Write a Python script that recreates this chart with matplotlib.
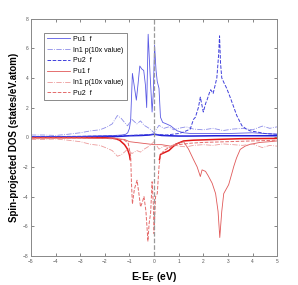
import matplotlib
matplotlib.use("Agg")
import matplotlib.pyplot as plt

plt.rcParams['font.family'] = ['Liberation Sans', 'DejaVu Sans']

nan = float('nan')

# spin up (blue)
pu1_up_x = [-5, -4, -3, -2.5, -2, -1.6, -1.3, -1.15, -1.07, -1.0, -0.95, -0.88, -0.8, -0.72, -0.65,
            -0.58, -0.5, -0.42, -0.35, -0.3, -0.24, -0.17, -0.08, -0.03, 0.02, 0.08, 0.13, 0.2, 0.26,
            0.35, 0.5, 0.67, 0.8, 0.94, 1.2, 1.5, 2, 3, 4, 5]
pu1_up_y = [0.05, 0.05, 0.06, 0.08, 0.1, 0.12, 0.15, 0.2, 0.3, 0.6, 1.2, 4.3, 3.4, 2.5, 3.6,
            4.8, 4.6, 4.5, 3.5, 2.0, 6.94, 4.5, 1.7, 3.0, 6.2, 4.5, 3.75, 3.3, 1.35,
            1.0, 0.9, 0.77, 0.6, 0.43, 0.3, 0.25, 0.25, 0.25, 0.3, 0.2]

pu2_up_x = [-5, -4, -3, -2, -1.5, -1, -0.5, 0, 0.5, 1.0, 1.2, 1.47, 1.6, 1.68, 1.8, 1.88, 2.0, 2.1,
            2.15, 2.25, 2.3, 2.4, 2.48, 2.55, 2.62, 2.66, 2.7, 2.75, 2.86, 2.95, 3.09, 3.2, 3.36,
            3.5, 3.57, 3.75, 3.9, 4.2, 4.5, 5]
pu2_up_y = [0.05, 0.05, 0.06, 0.08, 0.1, 0.12, 0.15, 0.2, 0.15, 0.25, 0.35, 0.55, 1.2, 1.35, 2.0, 2.7, 1.7, 2.3,
            2.5, 3.0, 3.2, 2.95, 3.5, 4.0, 5.5, 6.83, 5.0, 4.0, 3.6, 3.3, 2.7, 2.2, 1.46,
            1.0, 0.77, 0.55, 0.43, 0.35, 0.25, 0.2]

in1_x = [-5, -4.5, -4, -3.5, -3, -2.57, -2.2, -1.9, -1.7, -1.49, -1.35, -1.2, -1.08, -0.9, -0.7,
         -0.55, -0.4, -0.2, 0, 0.2, 0.4, 0.6, 0.8, 1.0, 1.3, 1.6, 2.0, 2.4, 2.8, 3.2, 3.6, 4.0,
         4.4, 4.7, 5]
in1_up_y = [0.15, 0.15, 0.12, 0.2, 0.3, 0.43, 0.5, 0.7, 0.9, 1.46, 1.3, 1.0, 0.77, 1.2, 0.9,
            1.1, 0.8, 0.6, 0.3, 0.8, 0.6, 0.7, 0.5, 0.6, 0.7, 0.55, 0.5, 0.6, 0.45, 0.55, 0.6, 0.5,
            0.75, 0.6, 0.7]
in1_dn_y = [-0.15, -0.15, -0.12, -0.2, -0.3, -0.48, -0.55, -0.75, -0.9, -1.28, -1.2, -1.0, -0.8, -1.1, -0.9,
            -1.0, -0.8, -0.6, -0.3, -0.8, -0.6, -0.7, -0.5, -0.6, -0.65, -0.55, -0.5, -0.55, -0.45, -0.5, -0.55, -0.45,
            -0.7, -0.55, -0.6]

tot_up_x = [-5, -3, -1.5, -1, -0.5, -0.2, 0, 0.3, 0.6, 1.0, 1.5, 2.5, 3.5, 5]
tot_up_y = [0.02, 0.03, 0.05, 0.1, 0.12, 0.15, 0.2, 0.12, 0.1, 0.08, 0.08, 0.1, 0.1, 0.1]

# spin down (red)
pu1_dn_x = [-5, -3, -2, -1.5, -1.2, -1.0, -0.5, 0, 0.3, 0.67, 1.0, 1.2, 1.4, 1.6, 1.75, 1.88, 1.95,
            2.09, 2.2, 2.36, 2.5, 2.6, 2.67, 2.75, 2.83, 2.93, 3.03, 3.15, 3.24, 3.35, 3.5, 3.7,
            3.9, 4.3, 4.7, 5]
pu1_dn_y = [-0.05, -0.05, -0.08, -0.1, -0.15, -0.3, -0.4, -0.5, -0.5, -0.6, -0.4, -0.3, -0.8, -1.5, -2.0, -2.65, -2.2,
            -2.3, -2.6, -3.1, -3.8, -5.0, -6.76, -5.0, -3.8, -3.5, -3.2, -2.5, -1.96, -1.4, -0.82, -0.6,
            -0.48, -0.35, -0.3, -0.25]

pu2_dn_x = [-5, -3, -2, -1.5, -1.2, -1.05, -0.95, -0.92, -0.88, -0.8, -0.69, -0.6, -0.55, -0.48, -0.41,
            -0.33, -0.25, -0.2, -0.14, -0.08, -0.03, 0.0, 0.06, 0.13, 0.2, 0.26, 0.4, 0.6, 1.0, 1.5,
            2, 3, 4, 5]
pu2_dn_y = [-0.05, -0.05, -0.08, -0.12, -0.2, -0.4, -1.28, -3.0, -4.5, -3.5, -2.9, -4.0, -4.7, -4.4, -4.0,
            -5.0, -7.0, -5.8, -5.1, -3.0, -4.5, -6.5, -4.0, -3.8, -2.0, -1.2, -0.9, -0.7, -0.5, -0.4,
            -0.35, -0.3, -0.25, -0.2]

# thick line, hidden behind the dashed curves between -1 and 0.2
tot_dn_x = [-5, -3, -2, -1.6, -1.4, -1.2, -1.08, -1.0, -0.97, nan, 0.22, 0.26, 0.4,
            0.6, 0.87, 1.2, 1.6, 2.5, 3.5, 5]
tot_dn_y = [-0.02, -0.02, -0.04, -0.08, -0.2, -0.5, -0.8, -1.2, -1.5, nan, -1.5, -1.16, -1.05,
            -0.9, -0.48, -0.25, -0.2, -0.15, -0.1, -0.08]

xticks = list(range(-5, 6))
yticks = list(range(-8, 9, 2))

fig = plt.figure(figsize=(2.98, 2.85), dpi=100)
ax = fig.add_axes([0.104, 0.102, 0.826, 0.833])

ax.plot(tot_up_x, tot_up_y, color='#1e1ed8', lw=1.1)
ax.plot(tot_dn_x, tot_dn_y, color='#e01818', lw=1.1)
ax.plot(pu1_up_x, pu1_up_y, color='#5a5ae4', lw=0.6, label='Pu1  f')
ax.plot(in1_x, in1_up_y, color='#8c8ce8', lw=0.6, ls='-.', label='In1 p(10x value)')
ax.plot(pu2_up_x, pu2_up_y, color='#4040dc', lw=0.7, ls='--', label='Pu2  f')
ax.plot(pu1_dn_x, pu1_dn_y, color='#e05858', lw=0.6, label='Pu1 f')
ax.plot(in1_x, in1_dn_y, color='#ec9a9a', lw=0.6, ls='-.', label='In1 p(10x value)')
ax.plot(pu2_dn_x, pu2_dn_y, color='#e46a6a', lw=0.7, ls='--', label='Pu2  f')
ax.axvline(0, color='#999999', lw=0.9, ls='--')

ax.set_xlim(-5, 5)
ax.set_ylim(-8, 8)
ax.set_xticks(xticks)
ax.set_yticks(yticks)
ax.tick_params(direction='in', top=True, right=True, length=2.5, width=0.5,
               labelsize=3.5, colors='#555555', pad=2)
for s in ax.spines.values():
    s.set_color('#888888')
    s.set_linewidth(0.7)

ax.set_xlabel('E-E$_\\mathregular{F}$ (eV)', fontsize=7.5, fontweight='bold')
ax.xaxis.set_label_coords(0.5, -0.06)
ax.set_ylabel('Spin-projected DOS (states/eV.atom)', fontsize=7, fontweight='bold')
ax.yaxis.set_label_coords(-0.05, 0.5)

leg = ax.legend(loc='upper left', bbox_to_anchor=(0.04, 0.955), fontsize=5, frameon=True,
                fancybox=False, edgecolor='#555555', handlelength=3.2, labelspacing=0.55,
                borderpad=0.45, handletextpad=0.5)
leg.get_frame().set_linewidth(0.6)

fig.savefig('out.png', dpi=100)
